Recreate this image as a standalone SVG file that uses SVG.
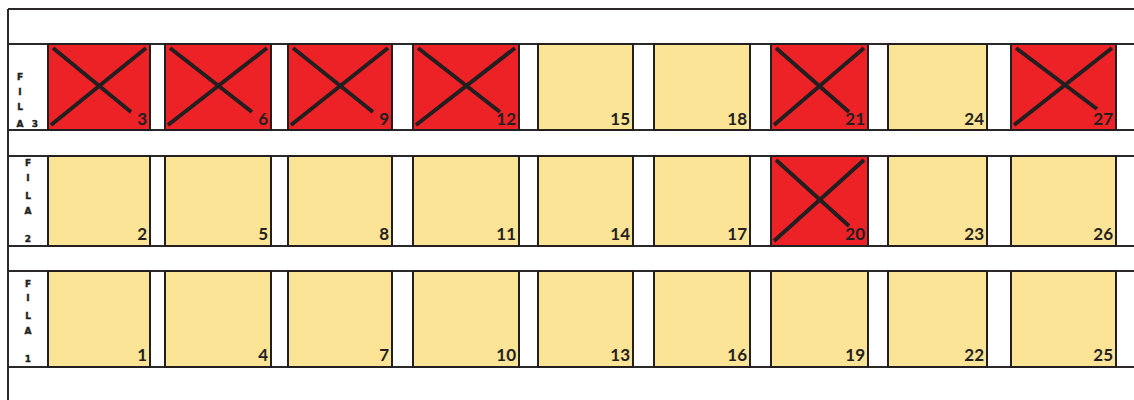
<svg xmlns="http://www.w3.org/2000/svg" width="1134" height="400" viewBox="0 0 1134 400">
<style>
.frame{stroke:#2b2828;stroke-width:2;fill:none}
.y{fill:#fbe496;stroke:#231f20;stroke-width:2}
.r{fill:#ec2227;stroke:#231f20;stroke-width:2}
.x{stroke:#231f20;stroke-width:4;stroke-linecap:butt}
.n{font-family:Lato,"Open Sans","Liberation Sans",sans-serif;font-weight:bold;font-size:17px;fill:#231f20;text-anchor:end}
.l{font-family:"DejaVu Sans","Liberation Sans",sans-serif;font-weight:bold;font-size:9px;fill:#231f20;stroke:#231f20;stroke-width:0.4;text-anchor:middle}
</style>
<rect width="1134" height="400" fill="#fff"/>
<g id="frame">
<path class="frame" d="M8 9H1134M8 9V400M8 44H1134M8 130H1134M8 156H1134M8 246H1134M8 271H1134M8 367H1134"/>
</g>
<g id="label-fila3">
<text class="l" x="20" y="80">F</text><text class="l" x="20" y="95">I</text><text class="l" x="20" y="110">L</text><text class="l" x="20" y="127">A</text><text class="l" x="35" y="127">3</text>
</g>
<g id="label-fila2">
<text class="l" x="28" y="166">F</text><text class="l" x="28" y="181">I</text><text class="l" x="28" y="199">L</text><text class="l" x="28" y="214">A</text><text class="l" x="28" y="242">2</text>
</g>
<g id="label-fila1">
<text class="l" x="28" y="287">F</text><text class="l" x="28" y="301">I</text><text class="l" x="28" y="319">L</text><text class="l" x="28" y="334">A</text><text class="l" x="28" y="362">1</text>
</g>
<!-- Row 3 -->
<g id="box3"><rect class="r" x="48" y="44" width="102" height="86"/><path class="x" d="M53 48L131 112M51 125L146 48"/><text class="n" x="147" y="125">3</text></g>
<g id="box6"><rect class="r" x="165" y="44" width="106" height="86"/><path class="x" d="M170 48L252 112M168 125L267 48"/><text class="n" x="268" y="125">6</text></g>
<g id="box9"><rect class="r" x="288" y="44" width="104" height="86"/><path class="x" d="M293 48L373 112M291 125L388 48"/><text class="n" x="389" y="125">9</text></g>
<g id="box12"><rect class="r" x="413" y="44" width="106" height="86"/><path class="x" d="M418 48L500 112M416 125L515 48"/><text class="n" x="516" y="125">12</text></g>
<g id="box15"><rect class="y" x="538" y="44" width="95" height="86"/><text class="n" x="630" y="125">15</text></g>
<g id="box18"><rect class="y" x="654" y="44" width="96" height="86"/><text class="n" x="747" y="125">18</text></g>
<g id="box21"><rect class="r" x="771" y="44" width="97" height="86"/><path class="x" d="M776 48L849 112M774 125L864 48"/><text class="n" x="865" y="125">21</text></g>
<g id="box24"><rect class="y" x="888" y="44" width="99" height="86"/><text class="n" x="984" y="125">24</text></g>
<g id="box27"><rect class="r" x="1011" y="44" width="105" height="86"/><path class="x" d="M1016 48L1097 109M1014 125L1112 48"/><text class="n" x="1113" y="125">27</text></g>
<!-- Row 2 -->
<g id="box2"><rect class="y" x="48" y="156" width="102" height="90"/><text class="n" x="147" y="240">2</text></g>
<g id="box5"><rect class="y" x="165" y="156" width="106" height="90"/><text class="n" x="268" y="240">5</text></g>
<g id="box8"><rect class="y" x="288" y="156" width="104" height="90"/><text class="n" x="389" y="240">8</text></g>
<g id="box11"><rect class="y" x="413" y="156" width="106" height="90"/><text class="n" x="516" y="240">11</text></g>
<g id="box14"><rect class="y" x="538" y="156" width="95" height="90"/><text class="n" x="630" y="240">14</text></g>
<g id="box17"><rect class="y" x="654" y="156" width="96" height="90"/><text class="n" x="747" y="240">17</text></g>
<g id="box20"><rect class="r" x="771" y="156" width="97" height="90"/><path class="x" d="M776 160L849 226M774 241L864 160"/><text class="n" x="865" y="240">20</text></g>
<g id="box23"><rect class="y" x="888" y="156" width="99" height="90"/><text class="n" x="984" y="240">23</text></g>
<g id="box26"><rect class="y" x="1011" y="156" width="105" height="90"/><text class="n" x="1113" y="240">26</text></g>
<!-- Row 1 -->
<g id="box1"><rect class="y" x="48" y="271" width="102" height="96"/><text class="n" x="147" y="361">1</text></g>
<g id="box4"><rect class="y" x="165" y="271" width="106" height="96"/><text class="n" x="268" y="361">4</text></g>
<g id="box7"><rect class="y" x="288" y="271" width="104" height="96"/><text class="n" x="389" y="361">7</text></g>
<g id="box10"><rect class="y" x="413" y="271" width="106" height="96"/><text class="n" x="516" y="361">10</text></g>
<g id="box13"><rect class="y" x="538" y="271" width="95" height="96"/><text class="n" x="630" y="361">13</text></g>
<g id="box16"><rect class="y" x="654" y="271" width="96" height="96"/><text class="n" x="747" y="361">16</text></g>
<g id="box19"><rect class="y" x="771" y="271" width="97" height="96"/><text class="n" x="865" y="361">19</text></g>
<g id="box22"><rect class="y" x="888" y="271" width="99" height="96"/><text class="n" x="984" y="361">22</text></g>
<g id="box25"><rect class="y" x="1011" y="271" width="105" height="96"/><text class="n" x="1113" y="361">25</text></g>
</svg>
